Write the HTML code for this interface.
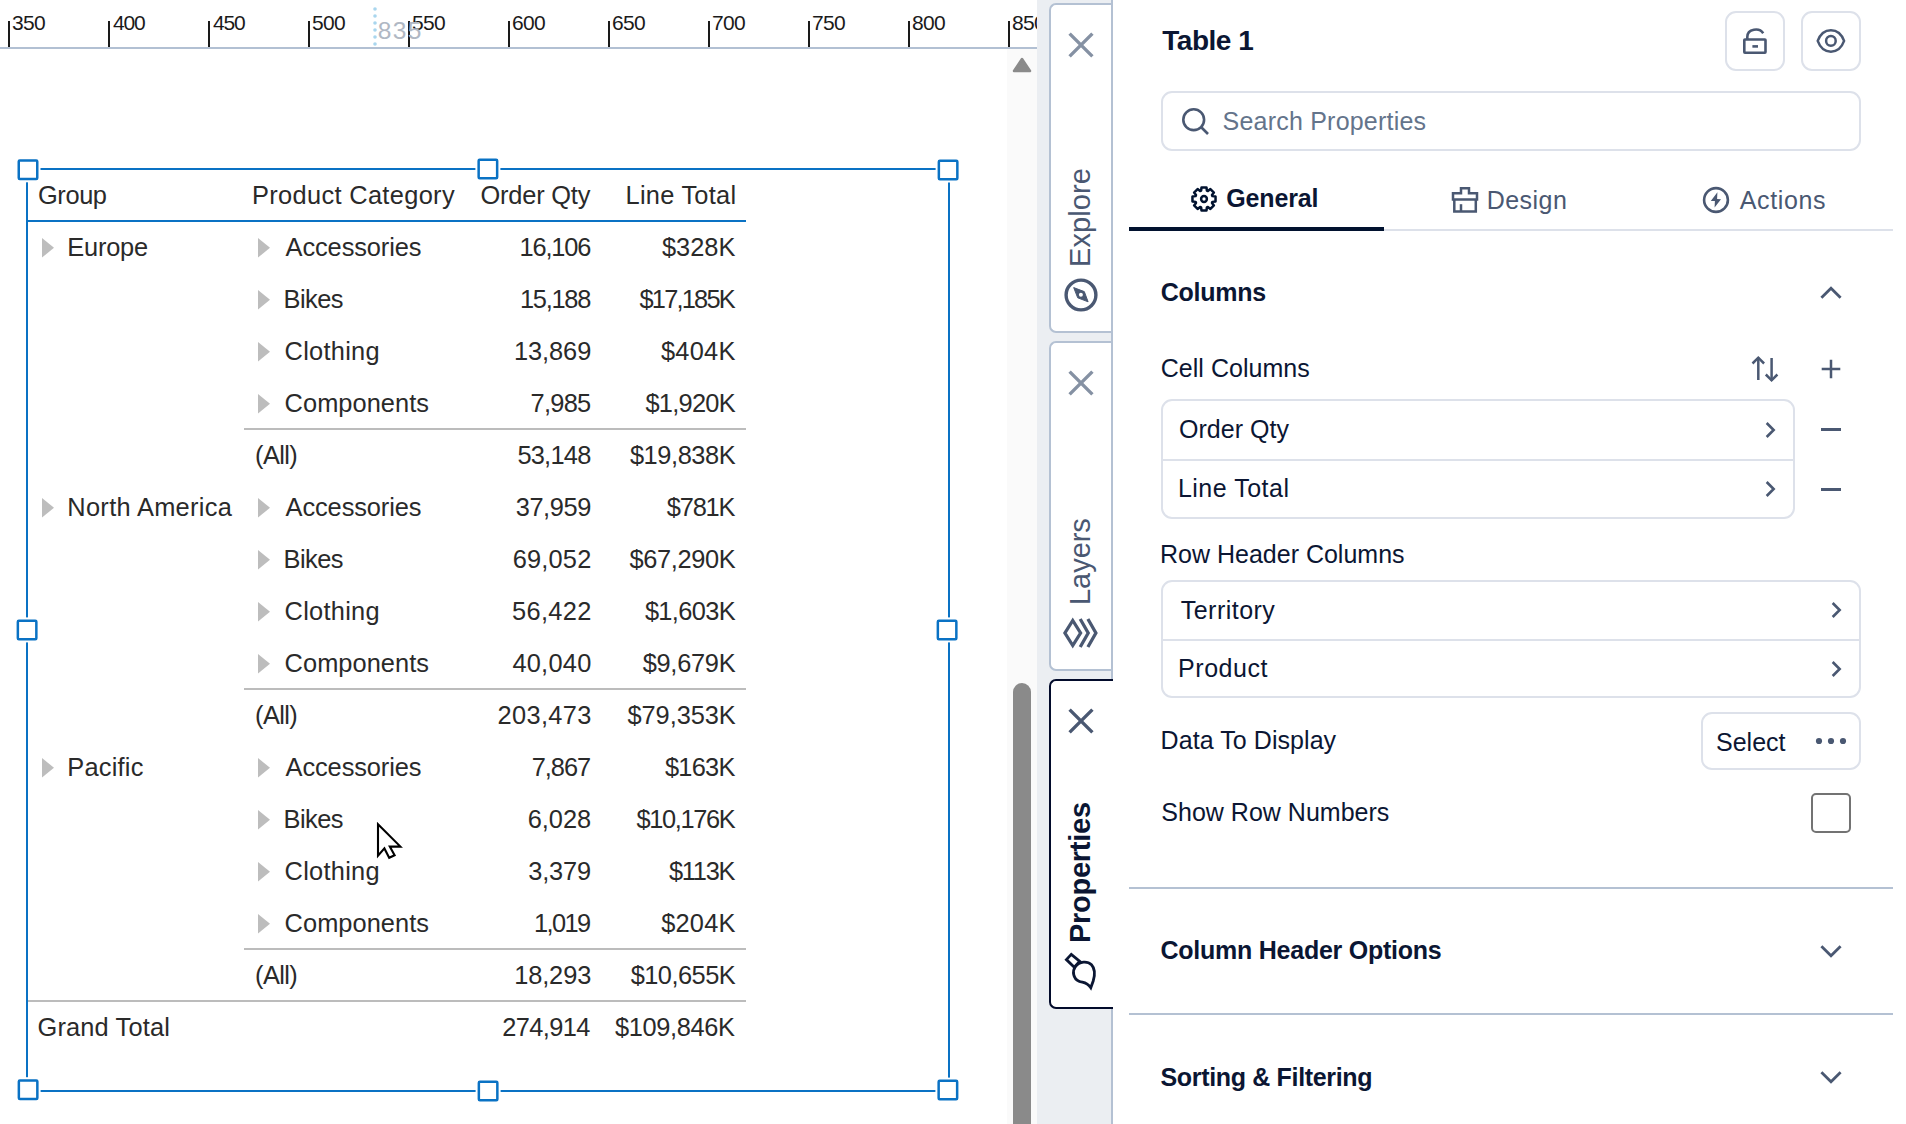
<!DOCTYPE html>
<html><head><meta charset="utf-8"><title>Table 1</title>
<style>
html,body{margin:0;padding:0;width:1906px;height:1124px;overflow:hidden;background:#fff;}
body{position:relative;font-family:"Liberation Sans",sans-serif;}
.a{position:absolute;box-sizing:content-box;}
.t{position:absolute;white-space:nowrap;}
svg.a{overflow:visible;}
</style></head><body>
<div class="a" style="left:0px;top:47px;width:1037px;height:2px;background:#b2c0d3"></div>
<div class="a" style="left:8px;top:21px;width:2px;height:26px;background:#1a1a1a"></div>
<div class="t" style="left:12.00px;top:10.00px;font-size:21px;line-height:25px;color:#1a1a1a;font-weight:400;letter-spacing:-0.700px;">350</div>
<div class="a" style="left:108px;top:21px;width:2px;height:26px;background:#1a1a1a"></div>
<div class="t" style="left:113.00px;top:10.00px;font-size:21px;line-height:25px;color:#1a1a1a;font-weight:400;letter-spacing:-1.200px;">400</div>
<div class="a" style="left:208px;top:21px;width:2px;height:26px;background:#1a1a1a"></div>
<div class="t" style="left:213.00px;top:10.00px;font-size:21px;line-height:25px;color:#1a1a1a;font-weight:400;letter-spacing:-1.200px;">450</div>
<div class="a" style="left:308px;top:21px;width:2px;height:26px;background:#1a1a1a"></div>
<div class="t" style="left:312.00px;top:10.00px;font-size:21px;line-height:25px;color:#1a1a1a;font-weight:400;letter-spacing:-0.700px;">500</div>
<div class="a" style="left:408px;top:21px;width:2px;height:26px;background:#1a1a1a"></div>
<div class="t" style="left:412.00px;top:10.00px;font-size:21px;line-height:25px;color:#1a1a1a;font-weight:400;letter-spacing:-0.700px;">550</div>
<div class="a" style="left:508px;top:21px;width:2px;height:26px;background:#1a1a1a"></div>
<div class="t" style="left:512.00px;top:10.00px;font-size:21px;line-height:25px;color:#1a1a1a;font-weight:400;letter-spacing:-0.700px;">600</div>
<div class="a" style="left:608px;top:21px;width:2px;height:26px;background:#1a1a1a"></div>
<div class="t" style="left:612.00px;top:10.00px;font-size:21px;line-height:25px;color:#1a1a1a;font-weight:400;letter-spacing:-0.700px;">650</div>
<div class="a" style="left:708px;top:21px;width:2px;height:26px;background:#1a1a1a"></div>
<div class="t" style="left:712.00px;top:10.00px;font-size:21px;line-height:25px;color:#1a1a1a;font-weight:400;letter-spacing:-0.700px;">700</div>
<div class="a" style="left:808px;top:21px;width:2px;height:26px;background:#1a1a1a"></div>
<div class="t" style="left:812.00px;top:10.00px;font-size:21px;line-height:25px;color:#1a1a1a;font-weight:400;letter-spacing:-0.700px;">750</div>
<div class="a" style="left:908px;top:21px;width:2px;height:26px;background:#1a1a1a"></div>
<div class="t" style="left:912.00px;top:10.00px;font-size:21px;line-height:25px;color:#1a1a1a;font-weight:400;letter-spacing:-0.700px;">800</div>
<div class="a" style="left:1008px;top:21px;width:2px;height:26px;background:#1a1a1a"></div>
<div class="t" style="left:1012.00px;top:10.00px;font-size:21px;line-height:25px;color:#1a1a1a;font-weight:400;letter-spacing:-0.700px;">850</div>
<svg class="a" style="left:373px;top:7px;" width="4" height="42" viewBox="0 0 4 42"><circle cx="2" cy="2" r="1.8" fill="#a9d6ee"/><circle cx="2" cy="9" r="1.8" fill="#a9d6ee"/><circle cx="2" cy="16" r="1.8" fill="#a9d6ee"/><circle cx="2" cy="23" r="1.8" fill="#a9d6ee"/><circle cx="2" cy="30" r="1.8" fill="#a9d6ee"/><circle cx="2" cy="37" r="1.8" fill="#a9d6ee"/></svg>
<div class="t" style="left:377.70px;top:15.70px;font-size:24.5px;line-height:29px;color:#b0b8c4;font-weight:400;letter-spacing:1.450px;">835</div>
<div class="a" style="left:1007px;top:49px;width:30px;height:1075px;background:#fafafa"></div>
<svg class="a" style="left:1011px;top:56px;" width="22" height="18" viewBox="0 0 22 18"><path d="M11 3 L19 15 L3 15 Z" fill="#8a8a8a" stroke="#8a8a8a" stroke-width="2.5" stroke-linejoin="round"/></svg>
<div class="a" style="left:1013px;top:683px;width:18px;height:460px;background:#8a8a8a;border-radius:9px"></div>
<svg class="a" style="left:0px;top:0px;" width="1000" height="1124" viewBox="0 0 1000 1124"><rect x="26" y="168" width="924" height="2" fill="#0a72c4"/><rect x="26" y="1090" width="924" height="2" fill="#0a72c4"/><rect x="26" y="168" width="2" height="924" fill="#0a72c4"/><rect x="948" y="168" width="2" height="924" fill="#0a72c4"/><rect x="15.50" y="157.30" width="25" height="25" fill="#fff"/><rect x="18.75" y="160.55" width="18.5" height="18.5" rx="1" fill="#fff" stroke="#0a72c4" stroke-width="2.5"/><rect x="475.40" y="156.40" width="25" height="25" fill="#fff"/><rect x="478.65" y="159.65" width="18.5" height="18.5" rx="1" fill="#fff" stroke="#0a72c4" stroke-width="2.5"/><rect x="935.60" y="157.50" width="25" height="25" fill="#fff"/><rect x="938.85" y="160.75" width="18.5" height="18.5" rx="1" fill="#fff" stroke="#0a72c4" stroke-width="2.5"/><rect x="14.60" y="617.40" width="25" height="25" fill="#fff"/><rect x="17.85" y="620.65" width="18.5" height="18.5" rx="1" fill="#fff" stroke="#0a72c4" stroke-width="2.5"/><rect x="934.60" y="617.40" width="25" height="25" fill="#fff"/><rect x="937.85" y="620.65" width="18.5" height="18.5" rx="1" fill="#fff" stroke="#0a72c4" stroke-width="2.5"/><rect x="15.60" y="1077.20" width="25" height="25" fill="#fff"/><rect x="18.85" y="1080.45" width="18.5" height="18.5" rx="1" fill="#fff" stroke="#0a72c4" stroke-width="2.5"/><rect x="475.60" y="1078.50" width="25" height="25" fill="#fff"/><rect x="478.85" y="1081.75" width="18.5" height="18.5" rx="1" fill="#fff" stroke="#0a72c4" stroke-width="2.5"/><rect x="935.40" y="1077.60" width="25" height="25" fill="#fff"/><rect x="938.65" y="1080.85" width="18.5" height="18.5" rx="1" fill="#fff" stroke="#0a72c4" stroke-width="2.5"/></svg>
<div class="t" style="left:38.00px;top:179.80px;font-size:25.4px;line-height:30px;color:#2a2a2a;font-weight:400;letter-spacing:-0.400px;">Group</div>
<div class="t" style="left:252.00px;top:179.80px;font-size:25.4px;line-height:30px;color:#2a2a2a;font-weight:400;letter-spacing:0.333px;">Product Category</div>
<div class="t" style="left:480.40px;top:179.60px;font-size:25.4px;line-height:30px;color:#2a2a2a;font-weight:400;letter-spacing:-0.175px;">Order Qty</div>
<div class="t" style="left:625.50px;top:179.60px;font-size:25.4px;line-height:30px;color:#2a2a2a;font-weight:400;letter-spacing:0.256px;">Line Total</div>
<div class="a" style="left:28px;top:220px;width:718px;height:2px;background:#0a72c4"></div>
<svg class="a" style="left:42px;top:237.5px;" width="13" height="20" viewBox="0 0 13 20"><path d="M0 0 L12 9.8 L0 19.6 Z" fill="#bdbdbd"/></svg>
<div class="t" style="left:67.30px;top:232.20px;font-size:25.4px;line-height:30px;color:#2a2a2a;font-weight:400;letter-spacing:-0.220px;">Europe</div>
<svg class="a" style="left:258px;top:237.5px;" width="13" height="20" viewBox="0 0 13 20"><path d="M0 0 L12 9.8 L0 19.6 Z" fill="#bdbdbd"/></svg>
<div class="t" style="left:285.60px;top:232.20px;font-size:25.4px;line-height:30px;color:#2a2a2a;font-weight:400;letter-spacing:-0.100px;">Accessories</div>
<div class="t" style="left:519.60px;top:232.20px;font-size:25.4px;line-height:30px;color:#2a2a2a;font-weight:400;letter-spacing:-1.200px;">16,106</div>
<div class="t" style="left:661.90px;top:232.20px;font-size:25.4px;line-height:30px;color:#2a2a2a;font-weight:400;letter-spacing:0.025px;">$328K</div>
<svg class="a" style="left:258px;top:289.5px;" width="13" height="20" viewBox="0 0 13 20"><path d="M0 0 L12 9.8 L0 19.6 Z" fill="#bdbdbd"/></svg>
<div class="t" style="left:283.60px;top:284.20px;font-size:25.4px;line-height:30px;color:#2a2a2a;font-weight:400;letter-spacing:-0.550px;">Bikes</div>
<div class="t" style="left:520.00px;top:284.20px;font-size:25.4px;line-height:30px;color:#2a2a2a;font-weight:400;letter-spacing:-1.280px;">15,188</div>
<div class="t" style="left:639.50px;top:284.20px;font-size:25.4px;line-height:30px;color:#2a2a2a;font-weight:400;letter-spacing:-1.786px;">$17,185K</div>
<svg class="a" style="left:258px;top:341.5px;" width="13" height="20" viewBox="0 0 13 20"><path d="M0 0 L12 9.8 L0 19.6 Z" fill="#bdbdbd"/></svg>
<div class="t" style="left:284.60px;top:336.20px;font-size:25.4px;line-height:30px;color:#2a2a2a;font-weight:400;letter-spacing:0.257px;">Clothing</div>
<div class="t" style="left:514.00px;top:336.20px;font-size:25.4px;line-height:30px;color:#2a2a2a;font-weight:400;letter-spacing:-0.080px;">13,869</div>
<div class="t" style="left:660.90px;top:336.20px;font-size:25.4px;line-height:30px;color:#2a2a2a;font-weight:400;letter-spacing:0.275px;">$404K</div>
<svg class="a" style="left:258px;top:393.5px;" width="13" height="20" viewBox="0 0 13 20"><path d="M0 0 L12 9.8 L0 19.6 Z" fill="#bdbdbd"/></svg>
<div class="t" style="left:284.60px;top:388.20px;font-size:25.4px;line-height:30px;color:#2a2a2a;font-weight:400;letter-spacing:0.044px;">Components</div>
<div class="t" style="left:530.60px;top:388.20px;font-size:25.4px;line-height:30px;color:#2a2a2a;font-weight:400;letter-spacing:-0.750px;">7,985</div>
<div class="t" style="left:645.40px;top:388.20px;font-size:25.4px;line-height:30px;color:#2a2a2a;font-weight:400;letter-spacing:-0.733px;">$1,920K</div>
<div class="t" style="left:255.00px;top:440.20px;font-size:25.4px;line-height:30px;color:#2a2a2a;font-weight:400;letter-spacing:-0.575px;">(All)</div>
<div class="t" style="left:517.40px;top:440.20px;font-size:25.4px;line-height:30px;color:#2a2a2a;font-weight:400;letter-spacing:-0.760px;">53,148</div>
<div class="t" style="left:629.90px;top:440.20px;font-size:25.4px;line-height:30px;color:#2a2a2a;font-weight:400;letter-spacing:-0.414px;">$19,838K</div>
<svg class="a" style="left:42px;top:497.50000000000006px;" width="13" height="20" viewBox="0 0 13 20"><path d="M0 0 L12 9.8 L0 19.6 Z" fill="#bdbdbd"/></svg>
<div class="t" style="left:67.30px;top:492.20px;font-size:25.4px;line-height:30px;color:#2a2a2a;font-weight:400;letter-spacing:0.308px;">North America</div>
<svg class="a" style="left:258px;top:497.50000000000006px;" width="13" height="20" viewBox="0 0 13 20"><path d="M0 0 L12 9.8 L0 19.6 Z" fill="#bdbdbd"/></svg>
<div class="t" style="left:285.60px;top:492.20px;font-size:25.4px;line-height:30px;color:#2a2a2a;font-weight:400;letter-spacing:-0.100px;">Accessories</div>
<div class="t" style="left:515.70px;top:492.20px;font-size:25.4px;line-height:30px;color:#2a2a2a;font-weight:400;letter-spacing:-0.420px;">37,959</div>
<div class="t" style="left:666.80px;top:492.20px;font-size:25.4px;line-height:30px;color:#2a2a2a;font-weight:400;letter-spacing:-1.200px;">$781K</div>
<svg class="a" style="left:258px;top:549.5px;" width="13" height="20" viewBox="0 0 13 20"><path d="M0 0 L12 9.8 L0 19.6 Z" fill="#bdbdbd"/></svg>
<div class="t" style="left:283.60px;top:544.20px;font-size:25.4px;line-height:30px;color:#2a2a2a;font-weight:400;letter-spacing:-0.550px;">Bikes</div>
<div class="t" style="left:512.70px;top:544.20px;font-size:25.4px;line-height:30px;color:#2a2a2a;font-weight:400;letter-spacing:0.180px;">69,052</div>
<div class="t" style="left:629.40px;top:544.20px;font-size:25.4px;line-height:30px;color:#2a2a2a;font-weight:400;letter-spacing:-0.343px;">$67,290K</div>
<svg class="a" style="left:258px;top:601.5px;" width="13" height="20" viewBox="0 0 13 20"><path d="M0 0 L12 9.8 L0 19.6 Z" fill="#bdbdbd"/></svg>
<div class="t" style="left:284.60px;top:596.20px;font-size:25.4px;line-height:30px;color:#2a2a2a;font-weight:400;letter-spacing:0.257px;">Clothing</div>
<div class="t" style="left:512.10px;top:596.20px;font-size:25.4px;line-height:30px;color:#2a2a2a;font-weight:400;letter-spacing:0.300px;">56,422</div>
<div class="t" style="left:644.90px;top:596.20px;font-size:25.4px;line-height:30px;color:#2a2a2a;font-weight:400;letter-spacing:-0.650px;">$1,603K</div>
<svg class="a" style="left:258px;top:653.5px;" width="13" height="20" viewBox="0 0 13 20"><path d="M0 0 L12 9.8 L0 19.6 Z" fill="#bdbdbd"/></svg>
<div class="t" style="left:284.60px;top:648.20px;font-size:25.4px;line-height:30px;color:#2a2a2a;font-weight:400;letter-spacing:0.044px;">Components</div>
<div class="t" style="left:512.40px;top:648.20px;font-size:25.4px;line-height:30px;color:#2a2a2a;font-weight:400;letter-spacing:0.240px;">40,040</div>
<div class="t" style="left:642.70px;top:648.20px;font-size:25.4px;line-height:30px;color:#2a2a2a;font-weight:400;letter-spacing:-0.283px;">$9,679K</div>
<div class="t" style="left:255.00px;top:700.20px;font-size:25.4px;line-height:30px;color:#2a2a2a;font-weight:400;letter-spacing:-0.575px;">(All)</div>
<div class="t" style="left:497.50px;top:700.20px;font-size:25.4px;line-height:30px;color:#2a2a2a;font-weight:400;letter-spacing:0.350px;">203,473</div>
<div class="t" style="left:627.50px;top:700.20px;font-size:25.4px;line-height:30px;color:#2a2a2a;font-weight:400;letter-spacing:-0.071px;">$79,353K</div>
<svg class="a" style="left:42px;top:757.5px;" width="13" height="20" viewBox="0 0 13 20"><path d="M0 0 L12 9.8 L0 19.6 Z" fill="#bdbdbd"/></svg>
<div class="t" style="left:67.30px;top:752.20px;font-size:25.4px;line-height:30px;color:#2a2a2a;font-weight:400;letter-spacing:0.217px;">Pacific</div>
<svg class="a" style="left:258px;top:757.5px;" width="13" height="20" viewBox="0 0 13 20"><path d="M0 0 L12 9.8 L0 19.6 Z" fill="#bdbdbd"/></svg>
<div class="t" style="left:285.60px;top:752.20px;font-size:25.4px;line-height:30px;color:#2a2a2a;font-weight:400;letter-spacing:-0.100px;">Accessories</div>
<div class="t" style="left:531.70px;top:752.20px;font-size:25.4px;line-height:30px;color:#2a2a2a;font-weight:400;letter-spacing:-1.025px;">7,867</div>
<div class="t" style="left:664.90px;top:752.20px;font-size:25.4px;line-height:30px;color:#2a2a2a;font-weight:400;letter-spacing:-0.725px;">$163K</div>
<svg class="a" style="left:258px;top:809.5px;" width="13" height="20" viewBox="0 0 13 20"><path d="M0 0 L12 9.8 L0 19.6 Z" fill="#bdbdbd"/></svg>
<div class="t" style="left:283.60px;top:804.20px;font-size:25.4px;line-height:30px;color:#2a2a2a;font-weight:400;letter-spacing:-0.550px;">Bikes</div>
<div class="t" style="left:527.70px;top:804.20px;font-size:25.4px;line-height:30px;color:#2a2a2a;font-weight:400;letter-spacing:-0.025px;">6,028</div>
<div class="t" style="left:636.60px;top:804.20px;font-size:25.4px;line-height:30px;color:#2a2a2a;font-weight:400;letter-spacing:-1.371px;">$10,176K</div>
<svg class="a" style="left:258px;top:861.5px;" width="13" height="20" viewBox="0 0 13 20"><path d="M0 0 L12 9.8 L0 19.6 Z" fill="#bdbdbd"/></svg>
<div class="t" style="left:284.60px;top:856.20px;font-size:25.4px;line-height:30px;color:#2a2a2a;font-weight:400;letter-spacing:0.257px;">Clothing</div>
<div class="t" style="left:528.20px;top:856.20px;font-size:25.4px;line-height:30px;color:#2a2a2a;font-weight:400;letter-spacing:-0.150px;">3,379</div>
<div class="t" style="left:668.90px;top:856.20px;font-size:25.4px;line-height:30px;color:#2a2a2a;font-weight:400;letter-spacing:-1.225px;">$113K</div>
<svg class="a" style="left:258px;top:913.5px;" width="13" height="20" viewBox="0 0 13 20"><path d="M0 0 L12 9.8 L0 19.6 Z" fill="#bdbdbd"/></svg>
<div class="t" style="left:284.60px;top:908.20px;font-size:25.4px;line-height:30px;color:#2a2a2a;font-weight:400;letter-spacing:0.044px;">Components</div>
<div class="t" style="left:533.90px;top:908.20px;font-size:25.4px;line-height:30px;color:#2a2a2a;font-weight:400;letter-spacing:-1.575px;">1,019</div>
<div class="t" style="left:661.20px;top:908.20px;font-size:25.4px;line-height:30px;color:#2a2a2a;font-weight:400;letter-spacing:0.200px;">$204K</div>
<div class="t" style="left:255.00px;top:960.20px;font-size:25.4px;line-height:30px;color:#2a2a2a;font-weight:400;letter-spacing:-0.575px;">(All)</div>
<div class="t" style="left:514.20px;top:960.20px;font-size:25.4px;line-height:30px;color:#2a2a2a;font-weight:400;letter-spacing:-0.120px;">18,293</div>
<div class="t" style="left:630.70px;top:960.20px;font-size:25.4px;line-height:30px;color:#2a2a2a;font-weight:400;letter-spacing:-0.529px;">$10,655K</div>
<div class="t" style="left:37.50px;top:1012.20px;font-size:25.4px;line-height:30px;color:#2a2a2a;font-weight:400;letter-spacing:0.150px;">Grand Total</div>
<div class="t" style="left:502.30px;top:1012.20px;font-size:25.4px;line-height:30px;color:#2a2a2a;font-weight:400;letter-spacing:-0.617px;">274,914</div>
<div class="t" style="left:615.10px;top:1012.20px;font-size:25.4px;line-height:30px;color:#2a2a2a;font-weight:400;letter-spacing:-0.388px;">$109,846K</div>
<div class="a" style="left:244px;top:428px;width:502px;height:2px;background:#bcbcbc"></div>
<div class="a" style="left:244px;top:688px;width:502px;height:2px;background:#bcbcbc"></div>
<div class="a" style="left:244px;top:948px;width:502px;height:2px;background:#bcbcbc"></div>
<div class="a" style="left:28px;top:1000px;width:718px;height:2px;background:#bcbcbc"></div>
<svg class="a" style="left:370px;top:815px;" width="40" height="50" viewBox="0 0 40 50"><path d="M8 9.3 L30.4 31.6 L19.8 31.6 L24.6 40.2 L19.2 42.8 L14.4 33.4 L8 40.8 Z" fill="#fff" stroke="#000" stroke-width="2.1" stroke-linejoin="miter"/></svg>
<div class="a" style="left:1037px;top:0px;width:76px;height:1124px;background:#ebeef2"></div>
<div class="a" style="left:1049px;top:3px;width:60px;height:326px;border:2px solid #b4c1d3;border-right:none;border-radius:7px 0 0 7px;background:#fff"></div>
<div class="a" style="left:1049px;top:341px;width:60px;height:326px;border:2px solid #b4c1d3;border-right:none;border-radius:7px 0 0 7px;background:#fff"></div>
<div class="a" style="left:1111px;top:0px;width:2px;height:1124px;background:#b4c1d3"></div>
<div class="a" style="left:1049px;top:679px;width:62px;height:326px;border:2px solid #020b2b;border-right:none;border-radius:7px 0 0 7px;background:#fff"></div>
<svg class="a" style="left:1067px;top:31px;" width="28" height="28" viewBox="0 0 28 28"><path d="M2.6 2.6 L25.4 25.4 M25.4 2.6 L2.6 25.4" stroke="#8591a3" stroke-width="3.4" fill="none"/></svg>
<svg class="a" style="left:1067px;top:369px;" width="28" height="28" viewBox="0 0 28 28"><path d="M2.6 2.6 L25.4 25.4 M25.4 2.6 L2.6 25.4" stroke="#8591a3" stroke-width="3.4" fill="none"/></svg>
<svg class="a" style="left:1067px;top:707px;" width="28" height="28" viewBox="0 0 28 28"><path d="M2.6 2.6 L25.4 25.4 M25.4 2.6 L2.6 25.4" stroke="#4a5872" stroke-width="3.4" fill="none"/></svg>
<div class="t" style="left:1063.00px;top:267.20px;font-size:29px;line-height:35px;color:#4a5872;font-weight:400;letter-spacing:0.100px;transform-origin:0 0;transform:rotate(-90deg)">Explore</div>
<div class="t" style="left:1063.00px;top:605.00px;font-size:29px;line-height:35px;color:#4a5872;font-weight:400;letter-spacing:-0.040px;transform-origin:0 0;transform:rotate(-90deg)">Layers</div>
<div class="t" style="left:1063.00px;top:943.00px;font-size:29px;line-height:35px;color:#0b1633;font-weight:700;letter-spacing:-0.267px;transform-origin:0 0;transform:rotate(-90deg)">Properties</div>
<svg class="a" style="left:1061px;top:275px;" width="40" height="40" viewBox="0 0 40 40"><circle cx="20" cy="20" r="14.9" stroke="#4a5872" stroke-width="3.4" fill="none"/><path d="M12.7 12.6 L23.3 16.6 L27.1 26.8 L16.7 22.8 Z" fill="#4a5872" stroke="#4a5872" stroke-width="1" stroke-linejoin="round"/><circle cx="19.9" cy="19.7" r="2" fill="#fff"/></svg>
<svg class="a" style="left:1058px;top:612px;" width="44" height="42" viewBox="0 0 44 42"><path d="M14.75 8.5 L22.56 21 L14.75 33.5 L6.94 21 Z" stroke="#4a5872" stroke-width="3.3" fill="none" stroke-linejoin="miter"/><path d="M22.2 7 L30.2 21 L22.2 35" stroke="#4a5872" stroke-width="3.3" fill="none"/><path d="M29.9 7 L37.9 21 L29.9 35" stroke="#4a5872" stroke-width="3.3" fill="none"/></svg>
<svg class="a" style="left:1058px;top:948px;" width="44" height="46" viewBox="0 0 44 46"><g stroke="#0b1633" stroke-width="2.8" fill="none" stroke-linejoin="miter"><path d="M8.4 11.6 L13.3 6.4 L21.8 13.3 L16.3 19.2 Z"/><path d="M17.2 19 C14.2 23 15 30.5 21 33.2 C24.5 35 28.5 33.5 32.8 39.8 L35.2 33 C37 27 37.8 21.5 33.5 16.8 C29.5 12.8 21.5 13 17.2 19 Z"/></g></svg>
<div class="t" style="left:1162.30px;top:23.80px;font-size:28px;line-height:34px;color:#0b1633;font-weight:700;letter-spacing:-0.483px;">Table 1</div>
<div class="a" style="left:1725px;top:11px;width:56px;height:56px;border:2px solid #dde1ea;border-radius:11px;background:#fff"></div>
<div class="a" style="left:1801px;top:11px;width:56px;height:56px;border:2px solid #dde1ea;border-radius:11px;background:#fff"></div>
<svg class="a" style="left:1735px;top:20px;" width="40" height="42" viewBox="0 0 40 42"><g stroke="#4a5872" stroke-width="2.6" fill="none"><rect x="9.3" y="19.5" width="21.2" height="13.2" rx="0.6"/><path d="M12.3 19.3 L12.3 17 C12.3 8.5 24.5 7.3 28.2 13.2"/><path d="M17.4 26.4 L23 26.4"/></g></svg>
<svg class="a" style="left:1811px;top:21px;" width="40" height="40" viewBox="0 0 40 40"><g stroke="#4a5872" stroke-width="2.5" fill="none" stroke-linejoin="round"><path transform="translate(19.9 19.9)" d="M-13.2 0 C-10.5 -7.5 -6 -10.75 0 -10.75 C6 -10.75 10.5 -7.5 13.2 0 C10.5 7.5 6 10.75 0 10.75 C-6 10.75 -10.5 7.5 -13.2 0 Z"/><circle cx="19.9" cy="19.9" r="4.8"/></g></svg>
<div class="a" style="left:1161px;top:91px;width:696px;height:56px;border:2px solid #dde1ea;border-radius:11px;background:#fff"></div>
<svg class="a" style="left:1178px;top:104px;" width="36" height="36" viewBox="0 0 36 36"><g stroke="#4a5872" stroke-width="2.6" fill="none"><circle cx="15.7" cy="15.7" r="10.4"/><path d="M23 23 L30 30"/></g></svg>
<div class="t" style="left:1222.50px;top:106.00px;font-size:25px;line-height:30px;color:#64748b;font-weight:400;letter-spacing:0.219px;">Search Properties</div>
<div class="a" style="left:1129px;top:229px;width:764px;height:2px;background:#dde1ea"></div>
<div class="a" style="left:1129px;top:227px;width:255px;height:4px;background:#01122f"></div>
<svg class="a" style="left:1186px;top:181px;" width="36" height="36" viewBox="0 0 36 36"><g stroke="#01122f" stroke-width="2.5" fill="none" stroke-linejoin="round"><path d="M15.12 9.58 L15.52 6.46 L20.48 6.46 L20.88 9.58 A8.01 8.01 0 0 0 21.91 10.01 L21.91 10.01 L24.40 8.09 L27.91 11.60 L25.99 14.09 A8.01 8.01 0 0 0 26.42 15.12 L26.42 15.12 L29.54 15.52 L29.54 20.48 L26.42 20.88 A8.01 8.01 0 0 0 25.99 21.91 L25.99 21.91 L27.91 24.40 L24.40 27.91 L21.91 25.99 A8.01 8.01 0 0 0 20.88 26.42 L20.88 26.42 L20.48 29.54 L15.52 29.54 L15.12 26.42 A8.01 8.01 0 0 0 14.09 25.99 L14.09 25.99 L11.60 27.91 L8.09 24.40 L10.01 21.91 A8.01 8.01 0 0 0 9.58 20.88 L9.58 20.88 L6.46 20.48 L6.46 15.52 L9.58 15.12 A8.01 8.01 0 0 0 10.01 14.09 L10.01 14.09 L8.09 11.60 L11.60 8.09 L14.09 10.01 A8.01 8.01 0 0 0 15.12 9.58 Z"/><circle cx="18" cy="18" r="2.9"/></g></svg>
<div class="t" style="left:1226.30px;top:183.20px;font-size:25px;line-height:30px;color:#0b1633;font-weight:700;letter-spacing:-0.167px;">General</div>
<svg class="a" style="left:1448px;top:183px;" width="36" height="36" viewBox="0 0 36 36"><g stroke="#4a5872" stroke-width="2.5" fill="none" stroke-linejoin="miter"><path d="M13 10.3 L13 5.2 L21 5.2 L21 10.3 L29 10.3 L29 16.5 L5 16.5 L5 10.3 Z"/><path d="M6.3 16.5 L6.3 28.5 L27.8 28.5 L27.8 16.5"/><path d="M13 21.2 L13 28.5"/></g></svg>
<div class="t" style="left:1486.70px;top:184.50px;font-size:25px;line-height:30px;color:#4a5872;font-weight:400;letter-spacing:0.460px;">Design</div>
<svg class="a" style="left:1698px;top:182px;" width="36" height="36" viewBox="0 0 36 36"><circle cx="18" cy="18" r="11.9" stroke="#4a5872" stroke-width="2.6" fill="none"/><path d="M19.4 10.2 L12.8 18.9 L16.9 19.1 L16.6 25.5 L23 17.3 L19.1 17 Z" fill="#4a5872"/></svg>
<div class="t" style="left:1739.70px;top:184.50px;font-size:25px;line-height:30px;color:#4a5872;font-weight:400;letter-spacing:0.650px;">Actions</div>
<div class="t" style="left:1160.80px;top:277.00px;font-size:25px;line-height:30px;color:#0b1633;font-weight:700;letter-spacing:-0.267px;">Columns</div>
<svg class="a" style="left:1815px;top:276.5px;" width="32" height="32" viewBox="0 0 32 32"><path transform="translate(16 16)" d="M-9.6 4.8 L0 -4.8 L9.6 4.8" stroke="#4a5872" stroke-width="2.8" fill="none"/></svg>
<div class="t" style="left:1160.80px;top:353.00px;font-size:25px;line-height:30px;color:#0b1633;font-weight:400;letter-spacing:0.018px;">Cell Columns</div>
<svg class="a" style="left:1748px;top:353px;" width="34" height="32" viewBox="0 0 34 32"><g stroke="#4a5872" stroke-width="2.5" fill="none"><path d="M10.3 4.5 L10.3 27"/><path d="M4.5 10.5 L10.3 4.7 L16.1 10.5"/><path d="M23.6 5 L23.6 27.5"/><path d="M17.8 21.5 L23.6 27.3 L29.4 21.5"/></g></svg>
<svg class="a" style="left:1815px;top:353px;" width="32" height="32" viewBox="0 0 32 32"><g stroke="#4a5872" stroke-width="2.5" fill="none"><path d="M16 6.7 L16 25.3 M6.7 16 L25.3 16"/></g></svg>
<div class="a" style="left:1161px;top:399px;width:630px;height:116px;border:2px solid #dde1ea;border-radius:11px;background:#fff"></div>
<div class="a" style="left:1163px;top:459px;width:630px;height:2px;background:#dde1ea"></div>
<div class="t" style="left:1178.90px;top:414.00px;font-size:25px;line-height:30px;color:#0b1633;font-weight:400;letter-spacing:0.050px;">Order Qty</div>
<div class="t" style="left:1177.90px;top:473.00px;font-size:25px;line-height:30px;color:#0b1633;font-weight:400;letter-spacing:0.500px;">Line Total</div>
<svg class="a" style="left:1755px;top:414px;" width="32" height="32" viewBox="0 0 32 32"><path transform="translate(16 16)" d="M-4.34 -7 L2.66 0 L-4.34 7" stroke="#4a5872" stroke-width="2.6" fill="none"/></svg>
<svg class="a" style="left:1755px;top:473px;" width="32" height="32" viewBox="0 0 32 32"><path transform="translate(16 16)" d="M-4.34 -7 L2.66 0 L-4.34 7" stroke="#4a5872" stroke-width="2.6" fill="none"/></svg>
<div class="a" style="left:1821px;top:428px;width:20px;height:2.6px;background:#4a5872"></div>
<div class="a" style="left:1821px;top:488px;width:20px;height:2.6px;background:#4a5872"></div>
<div class="t" style="left:1160.00px;top:539.00px;font-size:25px;line-height:30px;color:#0b1633;font-weight:400;letter-spacing:0.000px;">Row Header Columns</div>
<div class="a" style="left:1161px;top:580px;width:696px;height:114px;border:2px solid #dde1ea;border-radius:11px;background:#fff"></div>
<div class="a" style="left:1163px;top:639px;width:696px;height:2px;background:#dde1ea"></div>
<div class="t" style="left:1180.70px;top:594.70px;font-size:25px;line-height:30px;color:#0b1633;font-weight:400;letter-spacing:0.487px;">Territory</div>
<div class="t" style="left:1178.00px;top:652.50px;font-size:25px;line-height:30px;color:#0b1633;font-weight:400;letter-spacing:0.567px;">Product</div>
<svg class="a" style="left:1821px;top:594px;" width="32" height="32" viewBox="0 0 32 32"><path transform="translate(16 16)" d="M-4.34 -7 L2.66 0 L-4.34 7" stroke="#4a5872" stroke-width="2.6" fill="none"/></svg>
<svg class="a" style="left:1821px;top:653px;" width="32" height="32" viewBox="0 0 32 32"><path transform="translate(16 16)" d="M-4.34 -7 L2.66 0 L-4.34 7" stroke="#4a5872" stroke-width="2.6" fill="none"/></svg>
<div class="t" style="left:1160.60px;top:725.10px;font-size:25px;line-height:30px;color:#0b1633;font-weight:400;letter-spacing:0.064px;">Data To Display</div>
<div class="a" style="left:1701px;top:712px;width:156px;height:54px;border:2px solid #dde1ea;border-radius:11px;background:#fff"></div>
<div class="t" style="left:1716.00px;top:726.70px;font-size:25px;line-height:30px;color:#0b1633;font-weight:400;letter-spacing:0.000px;">Select</div>
<svg class="a" style="left:1812px;top:734px;" width="40" height="14" viewBox="0 0 40 14"><circle cx="7" cy="7" r="3.1" fill="#4a5872"/><circle cx="19" cy="7" r="3.1" fill="#4a5872"/><circle cx="31" cy="7" r="3.1" fill="#4a5872"/></svg>
<div class="t" style="left:1161.30px;top:796.70px;font-size:25px;line-height:30px;color:#0b1633;font-weight:400;letter-spacing:0.013px;">Show Row Numbers</div>
<div class="a" style="left:1811px;top:793px;width:36px;height:36px;border:2px solid #737373;border-radius:5px;background:#fff"></div>
<div class="a" style="left:1129px;top:887px;width:764px;height:2px;background:#b4c1d3"></div>
<div class="t" style="left:1160.50px;top:935.30px;font-size:25px;line-height:30px;color:#0b1633;font-weight:700;letter-spacing:-0.245px;">Column Header Options</div>
<svg class="a" style="left:1815px;top:935px;" width="32" height="32" viewBox="0 0 32 32"><path transform="translate(16 16)" d="M-9.6 -4.8 L0 4.8 L9.6 -4.8" stroke="#4a5872" stroke-width="2.8" fill="none"/></svg>
<div class="a" style="left:1129px;top:1013px;width:764px;height:2px;background:#b4c1d3"></div>
<div class="t" style="left:1160.50px;top:1061.90px;font-size:25px;line-height:30px;color:#0b1633;font-weight:700;letter-spacing:-0.333px;">Sorting &amp; Filtering</div>
<svg class="a" style="left:1815px;top:1061px;" width="32" height="32" viewBox="0 0 32 32"><path transform="translate(16 16)" d="M-9.6 -4.8 L0 4.8 L9.6 -4.8" stroke="#4a5872" stroke-width="2.8" fill="none"/></svg>
</body></html>
